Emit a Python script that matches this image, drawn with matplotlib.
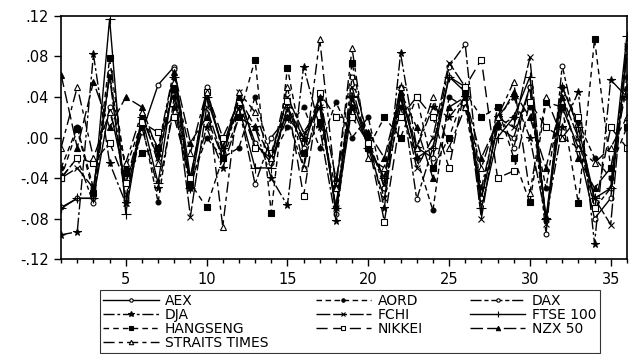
import matplotlib
matplotlib.use("Agg")
import matplotlib.pyplot as plt
from matplotlib.ticker import MultipleLocator, FuncFormatter

plt.rcParams['font.family'] = ['DejaVu Sans']

t = list(range(1, 37))

aex = [-0.069, -0.060, -0.060, 0.030, -0.045, 0.005, 0.052, 0.070, -0.040, 0.045, -0.010, 0.040,
       -0.005, -0.025, 0.030, -0.010, 0.040, -0.075, 0.030, -0.008, -0.040, 0.040, -0.010, -0.020,
       0.060, 0.045, -0.060, 0.010, 0.000, 0.050, -0.080, 0.030, -0.010, -0.080, -0.060, 0.080]
aord = [-0.030, 0.010, -0.050, 0.060, -0.030, 0.015, -0.064, 0.040, -0.045, 0.000, -0.020, -0.010,
        0.040, -0.020, 0.010, 0.030, -0.010, 0.035, 0.000, 0.020, -0.050, 0.030, -0.020, -0.072,
        0.040, 0.030, -0.060, 0.010, 0.020, 0.030, -0.050, 0.050, 0.015, -0.020, -0.040, 0.060]
dax = [-0.040, -0.020, -0.065, 0.065, -0.060, 0.020, -0.010, 0.068, -0.050, 0.050, -0.015, 0.030,
       -0.046, 0.000, 0.020, -0.030, 0.040, -0.070, 0.060, 0.000, -0.050, 0.050, -0.061, -0.010,
       0.070, 0.092, -0.060, 0.030, -0.010, 0.050, -0.095, 0.071, 0.000, -0.070, -0.050, 0.090]
dja = [-0.096, -0.093, 0.082, -0.025, -0.065, 0.010, -0.050, 0.030, -0.050, 0.010, -0.030, 0.020,
       0.010, -0.040, -0.067, 0.070, 0.010, -0.082, 0.040, 0.000, -0.070, 0.083, -0.010, 0.030,
       0.020, 0.040, -0.050, 0.020, 0.040, 0.000, -0.080, 0.010, 0.045, -0.105, 0.057, 0.040]
fchi = [-0.040, -0.030, -0.050, 0.060, -0.065, 0.020, -0.020, 0.050, -0.078, 0.030, -0.020, 0.045,
        -0.010, -0.020, 0.040, 0.005, 0.030, -0.070, 0.050, -0.010, -0.060, 0.040, -0.030, 0.000,
        0.074, 0.050, -0.080, 0.020, 0.010, 0.079, -0.085, 0.040, 0.000, -0.060, -0.086, 0.090]
ftse = [-0.070, -0.060, -0.060, 0.117, -0.075, 0.020, -0.045, 0.060, -0.050, 0.040, -0.010, 0.030,
        -0.030, -0.030, 0.030, 0.000, 0.030, -0.070, 0.040, -0.010, -0.040, 0.050, -0.020, -0.010,
        0.060, 0.050, -0.070, 0.000, 0.020, 0.060, -0.080, 0.050, 0.010, -0.060, -0.050, 0.100]
hangseng = [-0.040, 0.008, -0.055, 0.078, -0.035, -0.015, -0.010, 0.048, -0.045, -0.069, -0.020, 0.020,
            0.077, -0.074, 0.069, -0.015, 0.015, -0.050, 0.074, -0.010, 0.020, 0.000, 0.040, -0.030,
            0.000, 0.045, 0.020, 0.030, -0.020, -0.064, 0.035, 0.030, -0.065, 0.097, -0.030, 0.010]
nikkei = [-0.040, -0.020, -0.025, -0.005, -0.045, 0.015, 0.005, 0.020, -0.040, 0.045, 0.000, 0.035,
          -0.010, -0.015, 0.036, -0.058, 0.044, 0.020, 0.020, -0.005, -0.083, 0.020, 0.040, 0.020,
          -0.030, 0.050, 0.077, -0.040, -0.033, 0.035, 0.010, 0.000, 0.020, -0.070, 0.010, -0.010]
nzx = [0.062, -0.010, 0.055, 0.010, 0.040, 0.030, -0.015, 0.065, -0.005, 0.020, -0.020, 0.040,
       0.010, -0.020, 0.020, 0.000, 0.040, -0.040, 0.030, 0.005, -0.020, 0.045, 0.010, -0.040,
       0.030, 0.040, -0.020, 0.015, 0.045, 0.020, -0.030, 0.040, -0.020, -0.050, -0.030, 0.050]
straits = [-0.010, 0.050, -0.020, 0.025, -0.025, 0.025, -0.025, 0.055, -0.015, 0.045, -0.088, 0.045,
           0.025, -0.020, 0.050, -0.030, 0.097, -0.050, 0.088, -0.020, -0.030, 0.050, -0.010, 0.040,
           -0.010, 0.030, -0.030, 0.020, 0.055, -0.055, 0.040, 0.000, -0.010, -0.025, -0.010, 0.020]

fig = plt.figure(figsize=(6.3, 3.54), dpi=100)
ax = fig.add_axes([0.097, 0.268, 0.898, 0.687])

lw = 1.0
ms = 3.5
series = [
    ("AEX", aex, dict(ls='-', marker='o', mfc='white', ms=ms)),
    ("AORD", aord, dict(ls=(0, (4, 2.5)), marker='o', mfc='black', ms=ms)),
    ("DAX", dax, dict(ls=(0, (8, 2, 3, 2)), marker='o', mfc='white', ms=ms)),
    ("DJA", dja, dict(ls=(0, (8, 2, 2, 2)), marker='*', mfc='black', ms=ms + 2)),
    ("FCHI", fchi, dict(ls=(0, (10, 2)), marker='x', ms=ms + 1)),
    ("FTSE 100", ftse, dict(ls='-', marker='+', ms=ms + 3)),
    ("HANGSENG", hangseng, dict(ls=(0, (4, 3)), marker='s', mfc='black', ms=ms + 1)),
    ("NIKKEI", nikkei, dict(ls=(0, (8, 4)), marker='s', mfc='white', ms=ms + 1)),
    ("NZX 50", nzx, dict(ls=(0, (9, 3)), marker='^', mfc='black', ms=ms + 1)),
    ("STRAITS TIMES", straits, dict(ls=(0, (8, 3, 3, 3)), marker='^', mfc='white', ms=ms + 1)),
]

handles = {}
for name, vals, st in series:
    line, = ax.plot(t, vals, color='black', lw=lw, mec='black', mew=0.8, label=name, **st)
    handles[name] = line

ax.set_xlim(1, 36)
ax.set_ylim(-0.12, 0.12)
ax.yaxis.set_major_locator(MultipleLocator(0.04))
ax.yaxis.set_major_formatter(FuncFormatter(lambda v, p: ("%.2f" % v).replace("0.", ".").replace("-.00", ".00")))
ax.xaxis.set_major_locator(MultipleLocator(5))
ax.xaxis.set_minor_locator(MultipleLocator(1))
ax.tick_params(axis='both', which='both', direction='out', labelsize=10.5, width=1, pad=4)
ax.tick_params(axis='x', which='major', length=5)
ax.tick_params(axis='x', which='minor', length=3)
ax.tick_params(axis='y', length=5)
for s in ax.spines.values():
    s.set_linewidth(1.2)

order = ["AEX", "DJA", "HANGSENG", "STRAITS TIMES", "AORD", "FCHI", "NIKKEI", "DAX", "FTSE 100", "NZX 50"]
leg = fig.legend([handles[n] for n in order], order, ncol=3, loc='center',
                 bbox_to_anchor=(0.555, 0.091), fontsize=10, frameon=True, fancybox=False,
                 edgecolor='black', handlelength=4.0, handletextpad=0.45, columnspacing=3.4,
                 labelspacing=0.0, borderpad=0.25, markerscale=0.7)
leg.get_frame().set_linewidth(0.8)

fig.savefig("out.png", dpi=100)
